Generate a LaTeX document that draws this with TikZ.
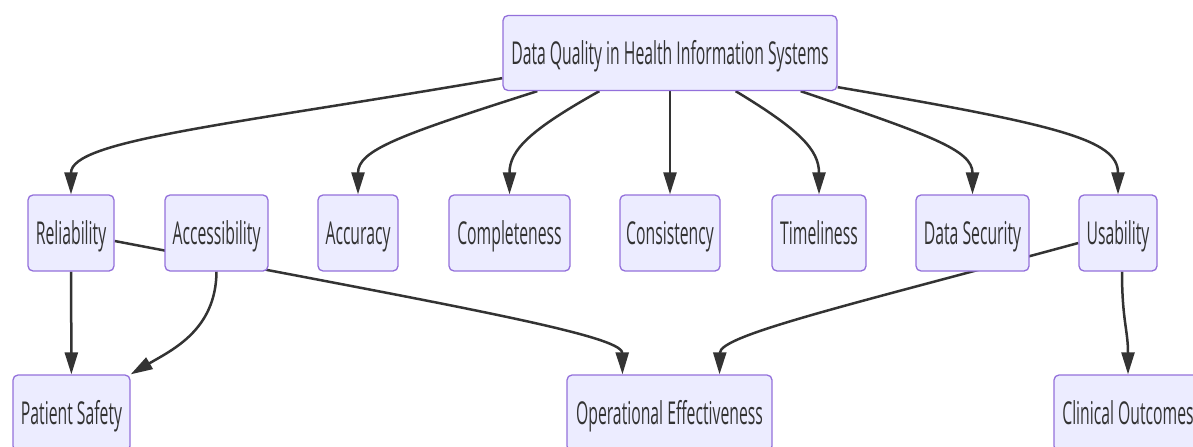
\documentclass[tikz,border=0pt]{standalone}
\usepackage{fontspec}
\setmainfont{Open Sans}[FakeStretch=0.5]
\usepackage{tikz}
\usetikzlibrary{arrows.meta,shapes,backgrounds}
\definecolor{boxfill}{HTML}{ECECFF}
\definecolor{boxline}{HTML}{9370DB}
\definecolor{ink}{HTML}{333333}

\begin{document}
\begin{tikzpicture}[
  box/.style={draw=boxline,line width=1.3bp,fill=boxfill,rounded corners=5bp,
    minimum height=76bp,inner sep=0pt,text height=22bp,text depth=0pt,text=ink,
    font=\fontsize{31.5bp}{36bp}\selectfont},
  link/.style={-{Triangle[length=22bp,width=13bp]},draw=ink,line width=2.5bp}]
\useasboundingbox (0bp,0bp) rectangle (1193bp,-447bp);
\node (dq) at (670bp,-53bp)[box,minimum width=334bp,minimum height=75bp] {Data Quality in Health Information Systems};
\node (rel) at (71bp,-233bp)[box,minimum width=86bp] {Reliability};
\node (acc) at (216.5bp,-233bp)[box,minimum width=103bp] {Accessibility};
\node (accu) at (358bp,-233bp)[box,minimum width=80bp] {Accuracy};
\node (comp) at (509.5bp,-233bp)[box,minimum width=121bp] {Completeness};
\node (cons) at (670bp,-233bp)[box,minimum width=100bp] {Consistency};
\node (time) at (819bp,-233bp)[box,minimum width=94bp] {Timeliness};
\node (dsec) at (972.5bp,-233bp)[box,minimum width=113bp] {Data Security};
\node (usab) at (1118bp,-233bp)[box,minimum width=78bp] {Usability};
\node (ps) at (71.5bp,-413bp)[box,minimum width=117bp] {Patient Safety};
\node (op) at (669.5bp,-413bp)[box,minimum width=205bp] {Operational Effectiveness};
\node (co) at (1128bp,-413bp)[box,minimum width=148bp] {Clinical Outcomes};
\begin{pgfonlayer}{background}
% from the top box
\draw [link] ([yshift=13bp]dq.south west) .. controls (230bp,-125bp) and (71bp,-140bp) .. (rel.north);
\draw [link] ([xshift=35bp]dq.south west) .. controls (400bp,-135bp) and (358bp,-150bp) .. (accu.north);
\draw [link] ([xshift=97bp]dq.south west) .. controls (530bp,-130bp) and (509.5bp,-150bp) .. (comp.north);
\draw [link] (dq) -- (cons);
\draw [link] ([xshift=-102bp]dq.south east) .. controls (800bp,-130bp) and (819bp,-150bp) .. (time.north);
\draw [link] ([xshift=-37bp]dq.south east) .. controls (930bp,-135bp) and (972.5bp,-150bp) .. (dsec.north);
\draw [link] ([yshift=4bp]dq.south east) .. controls (1060bp,-125bp) and (1118bp,-140bp) .. (usab.north);
% to the bottom row
\draw [link] (rel) -- (ps);
\draw [link] (acc.south) .. controls (216bp,-330bp) and (172bp,-350bp) .. (ps.north east);
\draw [link] ([yshift=-8bp]rel.east) .. controls (450bp,-305bp) and (622bp,-335bp) .. ([xshift=-47bp]op.north);
\draw [link] ([yshift=-10bp]usab.west) .. controls (850bp,-305bp) and (720bp,-335bp) .. ([xshift=50bp]op.north);
\draw [link] ([xshift=4bp]usab.south) .. controls (1122bp,-320bp) and (1128bp,-330bp) .. (co.north);
\end{pgfonlayer}
\end{tikzpicture}
\end{document}
